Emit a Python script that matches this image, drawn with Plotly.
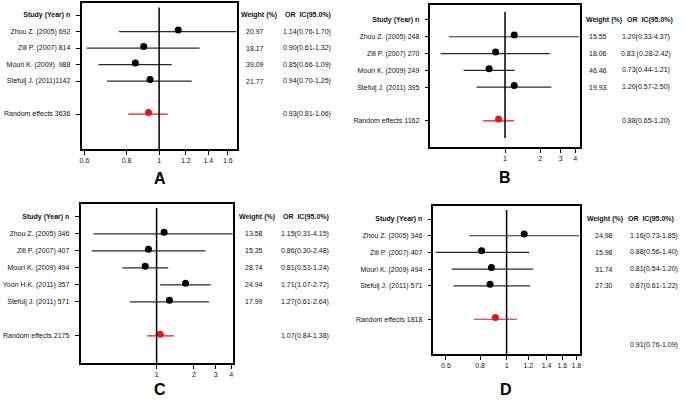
import math
import plotly.graph_objects as go

W, H = 685, 400

# ---------------- data ----------------
A_study = ["Zhou Z. (2005) 692", "Zill P. (2007) 814", "Mouri K. (2009)  988", "Stefulj J. (2011)1142"]
A_or = [1.14, 0.90, 0.85, 0.94]
A_lo = [0.76, 0.61, 0.66, 0.70]
A_hi = [1.70, 1.32, 1.09, 1.25]
A_weight = ["20.97", "18.17", "39.09", "21.77"]
A_ortext = ["1.14(0.76-1.70)", "0.90(0.61-1.32)", "0.85(0.66-1.09)", "0.94(0.70-1.25)"]
A_pool_label = "Random effects 3636"
A_pool = [0.93, 0.81, 1.06]
A_pool_text = "0.93(0.81-1.06)"
A_ticks = [0.6, 0.8, 1, 1.2, 1.4, 1.6]

B_study = ["Zhou Z. (2005) 248", "Zill P. (2007) 270", "Mouri K. (2009) 249", "Stefulj J. (2011) 395"]
B_or = [1.20, 0.83, 0.73, 1.20]
B_lo = [0.33, 0.28, 0.44, 0.57]
B_hi = [4.37, 2.42, 1.21, 2.50]
B_weight = ["15.55", "18.06", "46.46", "19.93"]
B_ortext = ["1.20(0.33-4.37)", "0.83 (0.28-2.42)", "0.73(0.44-1.21)", "1.20(0.57-2.50)"]
B_pool_label = "Random effects 1162"
B_pool = [0.88, 0.65, 1.20]
B_pool_text = "0.88(0.65-1.20)"
B_ticks = [1, 2, 3, 4]

C_study = ["Zhou Z. (2005) 346", "Zill P. (2007) 407", "Mouri K. (2009) 494", "Yoon H.K. (2011) 357", "Stefulj J. (2011) 571"]
C_or = [1.15, 0.86, 0.81, 1.71, 1.27]
C_lo = [0.31, 0.30, 0.53, 1.07, 0.61]
C_hi = [4.15, 2.48, 1.24, 2.72, 2.64]
C_weight = ["13.58", "15.35", "28.74", "24.94", "17.99"]
C_ortext = ["1.15(0.31-4.15)", "0.86(0.30-2.48)", "0.81(0.53-1.24)", "1.71(1.07-2.72)", "1.27(0.61-2.64)"]
C_pool_label = "Random effects 2175"
C_pool = [1.07, 0.84, 1.38]
C_pool_text = "1.07(0.84-1.38)"
C_ticks = [1, 2, 3, 4]

D_study = ["Zhou Z. (2005) 346", "Zill P. (2007) 407", "Mouri K. (2009) 494", "Stefulj J. (2011) 571"]
D_or = [1.16, 0.81, 0.88, 0.87]
D_lo = [0.73, 0.55, 0.63, 0.64]
D_hi = [1.85, 1.21, 1.25, 1.22]
D_weight = ["24.98", "15.98", "31.74", "27.30"]
D_ortext = ["1.16(0.73-1.85)", "0.88(0.56-1.40)", "0.81(0.54-1.20)", "0.87(0.61-1.22)"]
D_pool_label = "Random effects 1818"
D_pool = [0.91, 0.76, 1.09]
D_pool_text = "0.91(0.76-1.09)"
D_ticks = [0.6, 0.8, 1, 1.2, 1.4, 1.6, 1.8]

HEADER = "<b>Study (Year) n</b>"
W_HEADER = "<b>Weight (%)</b>"
OR_HEADER = "<b>OR\u00a0\u00a0IC(95.0%)</b>"

# ---------------- layout config (pixels) ----------------
FONT = "Liberation Sans, Arial, sans-serif"
TXT = "#111111"
FS = 7

cfg = {
    "A": dict(box=(80, 236, 3, 149), xr=(0.588, 1.70), yr=(8.12, -0.73), vline=(0.0, 0.97),
              wx=(259, 254), ox=(308, 307), letter=(159, 178), pool_row_text=None),
    "B": dict(box=(431, 581, 5, 147), xr=(0.229, 4.37), yr=(7.56, -0.89), vline=(0.063, 0.95),
              wx=(606, 599), ox=(652, 648), letter=(506, 177), pool_row_text=None),
    "C": dict(box=(79, 232, 204, 363), xr=(0.244, 4.1), yr=(8.59, -0.76), vline=(0.0, 0.975),
              wx=(256, 253), ox=(306, 305), letter=(159, 389), pool_row_text=None),
    "D": dict(box=(434, 581, 206, 354), xr=(0.54, 1.85), yr=(8.08, -0.78), vline=(0.0, 0.973),
              wx=(607, 606), ox=(653, 656), letter=(507, 389), pool_row_text=7.55),
}

fig = go.Figure()
annotations = []
shapes = []


def px_x(p):
    return p / W


def px_y(p):
    return 1 - p / H


def add_panel(k, name, study, orv, lo, hi, weight, ortext, pool_label, pool, pool_text, ticks):
    c = cfg[name]
    sfx = "" if k == 1 else str(k)
    xa, ya = "x" + sfx, "y" + sfx
    n = len(study)
    rows = list(range(1, n + 1))
    pool_row = n + 2

    xs, ys = [], []
    for i in range(n):
        xs += [lo[i], hi[i], None]
        ys += [rows[i], rows[i], None]
    fig.add_trace(go.Scatter(x=xs, y=ys, mode="lines", line=dict(color="#2a2a2a", width=1.2),
                             xaxis=xa, yaxis=ya, hoverinfo="skip", showlegend=False))
    fig.add_trace(go.Scatter(x=orv, y=[r - 0.1 for r in rows], mode="markers",
                             marker=dict(color="black", size=7), xaxis=xa, yaxis=ya,
                             showlegend=False, cliponaxis=False))
    fig.add_trace(go.Scatter(x=[pool[1], pool[2]], y=[pool_row, pool_row], mode="lines",
                             line=dict(color="#e8141b", width=1.2), xaxis=xa, yaxis=ya,
                             hoverinfo="skip", showlegend=False))
    fig.add_trace(go.Scatter(x=[pool[0]], y=[pool_row - 0.1], mode="markers",
                             marker=dict(color="#e8141b", size=7), xaxis=xa, yaxis=ya,
                             showlegend=False))

    x0, x1, y0, y1 = c["box"]
    axis_common = dict(showline=True, linecolor="black", linewidth=1.5, mirror=True,
                       showgrid=False, zeroline=False, ticks="outside", ticklen=4,
                       tickwidth=1, tickcolor="black",
                       tickfont=dict(family=FONT, size=FS, color=TXT))
    fig.layout["xaxis" + sfx] = dict(
        axis_common, domain=[px_x(x0), px_x(x1)], anchor=ya, type="log",
        range=[math.log10(c["xr"][0]), math.log10(c["xr"][1])],
        tickvals=ticks, ticktext=[f"{t:g}" for t in ticks])
    fig.layout["yaxis" + sfx] = dict(
        axis_common, domain=[px_y(y1), px_y(y0)], anchor=xa,
        range=list(c["yr"]), tickvals=[0] + rows + [pool_row],
        ticktext=[HEADER] + study + [pool_label], ticklabelstandoff=4)

    shapes.append(dict(type="line", xref=xa, yref=ya + " domain", x0=1, x1=1,
                       y0=c["vline"][0], y1=c["vline"][1],
                       line=dict(color="black", width=1.5)))

    tf = dict(family=FONT, size=FS, color=TXT)
    annotations.append(dict(text=W_HEADER, xref="paper", yref=ya, x=px_x(c["wx"][0]), y=0,
                            showarrow=False, font=tf, xanchor="center"))
    annotations.append(dict(text=OR_HEADER, xref="paper", yref=ya, x=px_x(c["ox"][0]), y=0,
                            showarrow=False, font=tf, xanchor="center"))
    for i in range(n):
        annotations.append(dict(text=weight[i], xref="paper", yref=ya, x=px_x(c["wx"][1]),
                                y=rows[i], showarrow=False, font=tf, xanchor="center"))
        annotations.append(dict(text=ortext[i], xref="paper", yref=ya, x=px_x(c["ox"][1]),
                                y=rows[i], showarrow=False, font=tf, xanchor="center"))
    prow = c["pool_row_text"] if c["pool_row_text"] is not None else pool_row
    annotations.append(dict(text=pool_text, xref="paper", yref=ya, x=px_x(c["ox"][1]),
                            y=prow, showarrow=False, font=tf, xanchor="center"))
    lx, ly = c["letter"]
    annotations.append(dict(text="<b>" + name + "</b>", xref="paper", yref="paper",
                            x=px_x(lx), y=px_y(ly), showarrow=False,
                            font=dict(family=FONT, size=16, color="black"),
                            xanchor="center", yanchor="middle"))


add_panel(1, "A", A_study, A_or, A_lo, A_hi, A_weight, A_ortext, A_pool_label, A_pool, A_pool_text, A_ticks)
add_panel(2, "B", B_study, B_or, B_lo, B_hi, B_weight, B_ortext, B_pool_label, B_pool, B_pool_text, B_ticks)
add_panel(3, "C", C_study, C_or, C_lo, C_hi, C_weight, C_ortext, C_pool_label, C_pool, C_pool_text, C_ticks)
add_panel(4, "D", D_study, D_or, D_lo, D_hi, D_weight, D_ortext, D_pool_label, D_pool, D_pool_text, D_ticks)

fig.update_layout(width=W, height=H, margin=dict(l=0, r=0, t=0, b=0),
                  paper_bgcolor="white", plot_bgcolor="white",
                  annotations=annotations, shapes=shapes, showlegend=False,
                  font=dict(family=FONT, size=FS, color=TXT))

fig.write_html("out.html", config={"displayModeBar": False},
               post_script="document.body.style.margin='0';")
